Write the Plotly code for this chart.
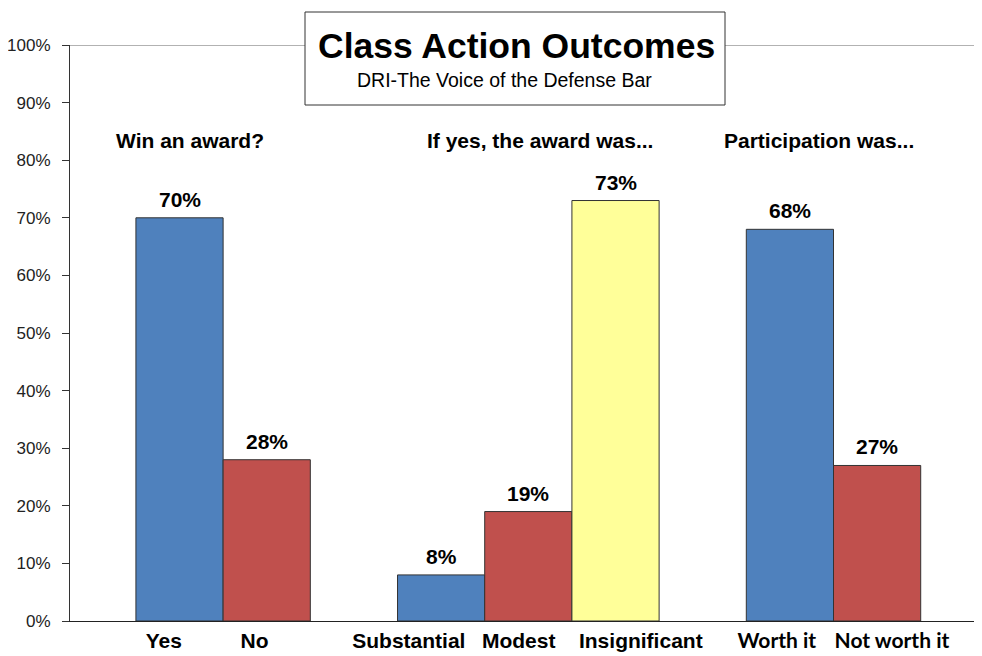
import plotly.graph_objects as go

categories = ["Yes", "No", "Substantial", "Modest", "Insignificant", "Worth it", "Not worth it"]
positions = [0, 1, 3, 4, 5, 7, 8]
values = [70, 28, 8, 19, 73, 68, 27]
colors = ["#4F81BD", "#C0504D", "#4F81BD", "#C0504D", "#FFFF99", "#4F81BD", "#C0504D"]
group_labels = ["Win an award?", "If yes, the award was...", "Participation was..."]
y_ticks = [0, 10, 20, 30, 40, 50, 60, 70, 80, 90, 100]
y_tick_text = [f"{v}%" for v in y_ticks]

# layout: horizontal nudges of category labels (axis units) so they don't collide
label_nudge = [-0.18, -0.14, -0.37, -0.11, 0.29, -0.15, 0.17]
group_label_x = [0.12, 4.13, 7.33]

tick_text = []
for c in categories:
    if c in ("Worth it", "Not worth it"):
        tick_text.append(f"<span style='font-family:Lato'>{c}</span>")
    else:
        tick_text.append(c)

fig = go.Figure()
fig.add_trace(go.Bar(
    x=positions, y=values, width=1.0,
    marker=dict(color=colors, line=dict(color="#333333", width=1)),
    hoverinfo="skip",
))

for p, v in zip(positions, values):
    fig.add_annotation(x=p, y=v, xref="x", yref="y", text=f"<b>{v}%</b>",
                       showarrow=False, xanchor="center", yanchor="bottom", yshift=5,
                       font=dict(family="Liberation Sans", size=21, color="black"))

# page body has an 8px margin; figure sized so the plot area lands at x 70-980, y 45-621
fig.update_layout(
    width=974, height=648,
    margin=dict(l=62, r=2, t=37, b=35),
    paper_bgcolor="white", plot_bgcolor="white",
    showlegend=False,
    font=dict(family="Liberation Sans", color="black"),
    xaxis=dict(
        range=[-1.256, 9.18],
        tickvals=[p + n for p, n in zip(positions, label_nudge)],
        ticktext=tick_text, tickangle=0,
        automargin=False,
        tickfont=dict(family="Liberation Sans", size=21, color="black", weight="bold"),
        showgrid=False, zeroline=False, showline=True, linecolor="#222222", linewidth=1,
        ticks="", ticklabelstandoff=1,
    ),
    yaxis=dict(
        range=[0, 100], tickvals=y_ticks, ticktext=y_tick_text, automargin=False,
        tickfont=dict(family="Liberation Sans", size=17, color="#222222"),
        showgrid=False, zeroline=False, showline=True, linecolor="#333333", linewidth=1,
        ticks="outside", ticklen=7, tickcolor="#333333", ticklabelstandoff=8,
    ),
)


def px(X):
    return (X - 70) / 910


def py(Y):
    return (621 - Y) / 576


# top gridline at 100%
fig.add_shape(type="line", xref="paper", yref="y", x0=0, x1=1, y0=100, y1=100,
              line=dict(color="#999999", width=1.5), layer="below")

# title box
fig.add_shape(type="rect", xref="paper", yref="paper",
              x0=px(305), x1=px(725), y0=py(105), y1=py(12),
              line=dict(color="#333333", width=1), fillcolor="white", layer="above")
fig.add_annotation(xref="paper", yref="paper", x=px(516), y=py(46),
                   text="<b>Class Action Outcomes</b>", showarrow=False,
                   font=dict(family="Liberation Sans", size=35.5, color="black"),
                   xanchor="center", yanchor="middle")
fig.add_annotation(xref="paper", yref="paper", x=px(504), y=py(80),
                   text="DRI-The Voice of the Defense Bar", showarrow=False,
                   font=dict(family="Liberation Sans", size=19.5, color="black"),
                   xanchor="center", yanchor="middle")

for lbl, gx in zip(group_labels, group_label_x):
    fig.add_annotation(xref="x", yref="paper", x=gx, y=py(140),
                       text=f"<b>{lbl}</b>", showarrow=False,
                       font=dict(family="Liberation Sans", size=21, color="black"),
                       xanchor="center", yanchor="middle")

fig.write_html("out.html")
